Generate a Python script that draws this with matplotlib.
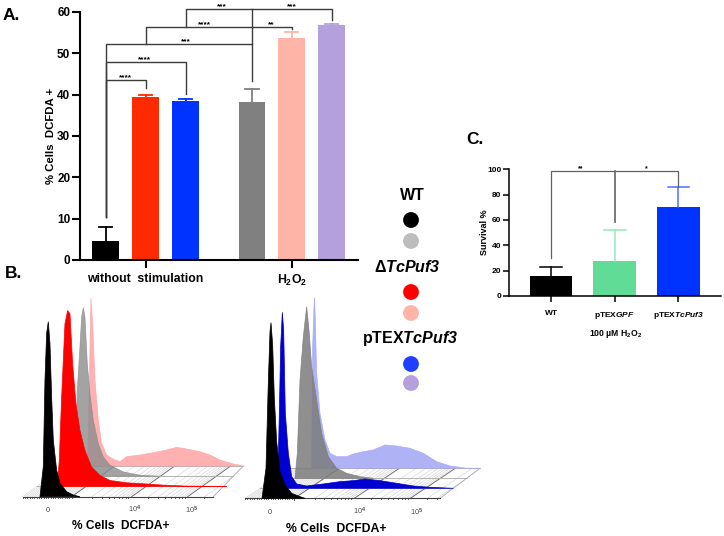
"""
Three panels: DCFDA bars (A), stacked flow histograms (B), survival bars (C).
"""
import numpy as np
import matplotlib
matplotlib.use('Agg')
import matplotlib.pyplot as plt

plt.rcParams['font.family'] = ['Liberation Sans', 'DejaVu Sans']
plt.rcParams['font.weight'] = 'bold'
plt.rcParams['axes.labelweight'] = 'bold'
plt.rcParams['mathtext.fontset'] = 'custom'
plt.rcParams['mathtext.rm'] = 'Liberation Sans:bold'
plt.rcParams['mathtext.it'] = 'Liberation Sans:italic:bold'
plt.rcParams['mathtext.bf'] = 'Liberation Sans:bold'
# \mathcal keeps digits italic, \mathit does not
plt.rcParams['mathtext.cal'] = 'Liberation Sans:italic:bold'

W, H = 724, 536

# panel A
A_POS = [0, 1, 2, 3.66, 4.65, 5.65]
A_VALUES = [4.5, 39.4, 38.4, 38.2, 53.6, 56.8]
A_TOPS = [7.9, 40.0, 38.9, 41.4, 55.1, 57.0]
A_COLORS = ['#000000', '#ff2a00', '#0033ff', '#808080', '#ffb4a8', '#b4a0dc']
A_TICKS = [0, 10, 20, 30, 40, 50, 60]

# panel C
C_LABELS = ['WT', r'pTEX$\mathcal{GPF}$', r'pTEX$\mathcal{TcPuf3}$']
C_VALUES = [16, 28, 70]
C_TOPS = [22.5, 52, 86]
C_COLORS = ['#000000', '#60dc96', '#0033ff']
C_ERR_COLORS = ['#000000', '#90ecb8', '#4a70ff']
C_TICKS = [0, 20, 40, 60, 80, 100]

# panel B histograms: channel from the zero tick, height of the trace
L_BLACK_X = [-22, -12, -7, -2, 3, 8, 13, 18, 28, 38, 58, 78, 98]
L_BLACK_Y = [0, 90, 350, 490, 525, 460, 300, 170, 80, 40, 15, 5, 0]
L_RED_X = [-13, -7, 0, 10, 18, 25, 33, 43, 55, 70, 90, 115, 145, 195, 245, 305, 375, 495]
L_RED_Y = [0, 78, 268, 488, 528, 518, 368, 248, 168, 108, 58, 33, 18, 11, 8, 4, 1, 0]
L_GRAY_X = [-3, 4, 12, 17, 22, 27, 34, 42, 52, 67, 82, 102, 142, 192, 252]
L_GRAY_Y = [0, 258, 388, 478, 506, 478, 338, 248, 168, 98, 58, 33, 13, 3, 0]
L_PINK_X = [-8, -3, 2, 7, 14, 24, 34, 49, 69, 89, 109, 149, 189, 229, 259, 289, 329, 359, 389, 429, 459]
L_PINK_Y = [0, 250, 503, 428, 258, 138, 68, 33, 20, 13, 28, 33, 40, 48, 56, 51, 43, 33, 18, 6, 0]

R_BLACK_X = [-24, -12, -5, 0, 3, 8, 13, 20, 30, 45, 65, 90, 105]
R_BLACK_Y = [0, 90, 350, 500, 527, 460, 300, 170, 80, 40, 15, 5, 0]
R_BLUE_X = [-22, -17, -13, -8, -4, 1, 10, 20, 35, 65, 115, 165, 205, 240, 285, 335, 385, 435, 505]
R_BLUE_Y = [0, 225, 425, 528, 475, 225, 105, 35, 13, 7, 13, 20, 23, 28, 23, 15, 7, 3, 0]
R_GRAY_X = [-15, -8, 0, 10, 20, 27, 35, 50, 65, 85, 110, 140, 180, 220]
R_GRAY_Y = [0, 75, 295, 425, 515, 445, 335, 235, 135, 65, 30, 15, 5, 0]
R_LIGHT_X = [-10, -7, -3, -1, 5, 15, 30, 45, 65, 95, 115, 145, 175, 210, 245, 285, 325, 365, 405, 455, 495]
R_LIGHT_Y = [0, 365, 485, 513, 285, 165, 85, 45, 35, 35, 43, 50, 55, 70, 67, 60, 45, 20, 7, 0, 0]

LEGEND_COLORS = ['#000000', '#bdbdbd', '#ff0000', '#ffb4a8', '#2040ff', '#b4a0dc']


def px_axes(fig, left, top, right, bottom):
    return fig.add_axes([left/W, 1-bottom/H, (right-left)/W, (bottom-top)/H])


def style(ax, lw):
    ax.patch.set_alpha(0)
    ax.spines['top'].set_visible(False)
    ax.spines['right'].set_visible(False)
    ax.spines['left'].set_linewidth(lw)
    ax.spines['bottom'].set_linewidth(lw)
    ax.tick_params(width=lw)


def bracket(ax, x0, x1, y, d0, d1, color='#3c3c3c', lw=1.0):
    ax.plot([x0, x0, x1, x1], [d0, y, y, d1], color=color, lw=lw, clip_on=False)


def stack(ov, ox, oy, x0, x1, edge, layers, dx, dy, alphas):
    """floor grid and the histogram layers, back to front"""
    z = 3.0
    n = len(layers)-1
    minor = list(np.arange(x0, 73, 7))+[73]
    for start in [83, 253, 421]:
        minor += [start+168*np.log10(k) for k in range(2, 10)]
    minor = [m for m in minor if m <= x1]
    for m in minor:
        t = min(1, (x1-m)/((dx-edge)*n))
        ov.plot([ox+m/z, ox+(m+dx*n*t)/z], [oy, oy-dy*n*t/z], color='#cfcfcf', lw=0.4, zorder=1)
        ov.plot([ox+m/z, ox+m/z], [oy, oy+(5 if m in (73, 253, 421) else 3)/z], color='#404040', lw=0.6, zorder=1)
    for m in [73, 253, 421]:
        t = min(1, (x1-m)/((dx-edge)*n))
        ov.plot([ox+m/z, ox+(m+dx*n*t)/z], [oy, oy-dy*n*t/z], color='#707070', lw=0.7, zorder=1)
    ov.plot([ox+x1/z, ox+(x1+edge*n)/z], [oy, oy-dy*n/z], color='#a8a8a8', lw=0.6, zorder=1)
    for i in range(n+1):
        ov.plot([ox+(x0+dx*i)/z, ox+(x1+edge*i)/z], [oy-dy*i/z]*2, color='#a8a8a8', lw=0.6, zorder=1)
    ov.plot([ox+x0/z, ox+x1/z], [oy, oy], color='#404040', lw=0.8, zorder=1)
    for i in range(n, -1, -1):
        xs, ys, c = layers[i]
        px = ox+(np.array(xs)+dx*i)/z
        py = oy-dy*i/z-np.array(ys)/z
        ov.fill(px, py, color=c, alpha=alphas[i], lw=0.5, zorder=2+n-i)


fig = plt.figure(figsize=(W/100, H/100), dpi=100)

# overlay in picture coordinates for the histograms and loose text
ov = fig.add_axes([0, 0, 1, 1])
ov.set_xlim(0, W)
ov.set_ylim(H, 0)
ov.axis('off')

# A
ax = px_axes(fig, 80, 12, 358, 260)
style(ax, 1.5)
ax.bar(A_POS, A_VALUES, width=0.66, color=A_COLORS)
for x, v, t, c in zip(A_POS, A_VALUES, A_TOPS, A_COLORS):
    ax.plot([x, x], [v, t], color=c, lw=1.3)
    ax.plot([x-0.17, x+0.17], [t, t], color=c, lw=1.3)
ax.set_xlim(-0.64, 6.31)
ax.set_ylim(0, 60)
ax.set_yticks(A_TICKS)
ax.set_xticks([1, 4.65])
ax.set_xticklabels([])
ax.tick_params(axis='y', labelsize=8.5, length=5.5, pad=1.5)
ax.tick_params(axis='x', length=6)
ax.set_ylabel('% Cells  DCFDA +', fontsize=8.2, labelpad=0.5)
bracket(ax, 0, 1, 43.5, 10.3, 41.5)
bracket(ax, 0, 2, 47.8, 10.3, 40.2)
bracket(ax, 0, 3.66, 52.2, 10.3, 43.2)
bracket(ax, 1, 4.65, 56.4, 52.2, 56.0)
bracket(ax, 2, 5.65, 60.7, 56.4, 58.0)
ax.plot([3.66, 3.66], [52.2, 60.7], color='#3c3c3c', lw=1.0, clip_on=False)
for x, y, s in [(0.49, 44.1, '****'), (0.97, 48.4, '****'), (2.0, 52.8, '***'),
                (2.46, 57.0, '****'), (4.15, 57.0, '**'), (2.9, 61.3, '***'), (4.65, 61.3, '***')]:
    ax.text(x, y, s, fontsize=6, ha='center', va='center', clip_on=False)

# C
ax = px_axes(fig, 509, 169.3, 721, 296)
style(ax, 1.1)
ax.bar(range(3), C_VALUES, width=0.67, color=C_COLORS)
for i in range(3):
    ax.plot([i, i], [C_VALUES[i], C_TOPS[i]], color=C_ERR_COLORS[i], lw=1.1)
    ax.plot([i-0.17, i+0.17], [C_TOPS[i], C_TOPS[i]], color=C_ERR_COLORS[i], lw=1.1)
ax.set_xlim(-0.66, 2.67)
ax.set_ylim(0, 100)
ax.set_yticks(C_TICKS)
ax.set_xticks(range(3))
ax.set_xticklabels(C_LABELS, fontsize=6)
ax.tick_params(axis='y', labelsize=6, length=4, pad=1.5)
ax.tick_params(axis='x', length=4, pad=6)
ax.set_ylabel('Survival %', fontsize=6.5, labelpad=-1.5)
bracket(ax, 0, 2, 98.7, 30, 86, color='#606060', lw=0.9)
ax.plot([1, 1], [58.7, 98.7], color='#707070', lw=1.3)
ax.text(0.47, 100.5, '**', fontsize=5, ha='center', va='center', clip_on=False)
ax.text(1.5, 100.5, '*', fontsize=5, ha='center', va='center', clip_on=False)

# B
stack(ov, 47.3, 496.7, -74, 498, 30,
      [(L_BLACK_X, L_BLACK_Y, '#000000'), (L_RED_X, L_RED_Y, '#ff0000'),
       (L_GRAY_X, L_GRAY_Y, '#8c8c8c'), (L_PINK_X, L_PINK_Y, '#ffa8a8')],
      43, 30.7, [1, 1, 0.8, 0.9])
stack(ov, 270, 498.3, -75, 510, 40,
      [(R_BLACK_X, R_BLACK_Y, '#000000'), (R_BLUE_X, R_BLUE_Y, '#0000d0'),
       (R_GRAY_X, R_GRAY_Y, '#7c7c7c'), (R_LIGHT_X, R_LIGHT_Y, '#a8aaf5')],
      45, 30, [1, 1, 0.85, 0.9])

# loose text
ov.text(11, 15, 'A.', fontsize=12.5, ha='center', va='center')
ov.text(14, 273, 'B.', fontsize=12.5, ha='center', va='center')
ov.text(475, 140, 'C.', fontsize=12.5, ha='center', va='center')
ov.text(145, 279, 'without  stimulation', fontsize=8.8, ha='center', va='center')
ov.text(292, 280, r'H$_2$O$_2$', fontsize=8.8, ha='center', va='center')
ov.text(121, 526, '% Cells  DCFDA+', fontsize=8.6, ha='center', va='center')
ov.text(336, 529, '% Cells  DCFDA+', fontsize=8.8, ha='center', va='center')
ov.text(616, 334, '100 µM H$_2$O$_2$', fontsize=6.2, ha='center', va='center')
for x, y, s in [(47.5, 510, '0'), (135, 509, '10$^4$'), (192, 510, '10$^5$'),
                (270, 512, '0'), (360, 511, '10$^4$'), (417, 512, '10$^5$')]:
    ov.text(x, y, s, fontsize=5.5, color='#505050', ha='center', va='center',
            fontweight='normal')

# legend
ov.text(412, 195, 'WT', fontsize=11.5, ha='center', va='center')
ov.text(407, 267, r'Δ$\mathcal{TcPuf3}$', fontsize=11.5, ha='center', va='center')
ov.text(410, 339, r'pTEX$\mathcal{TcPuf3}$', fontsize=11.5, ha='center', va='center')
ov.scatter([411]*6, [220, 241, 292, 313, 364, 383], s=130, c=LEGEND_COLORS, lw=0)

fig.savefig('out.png', dpi=100)
